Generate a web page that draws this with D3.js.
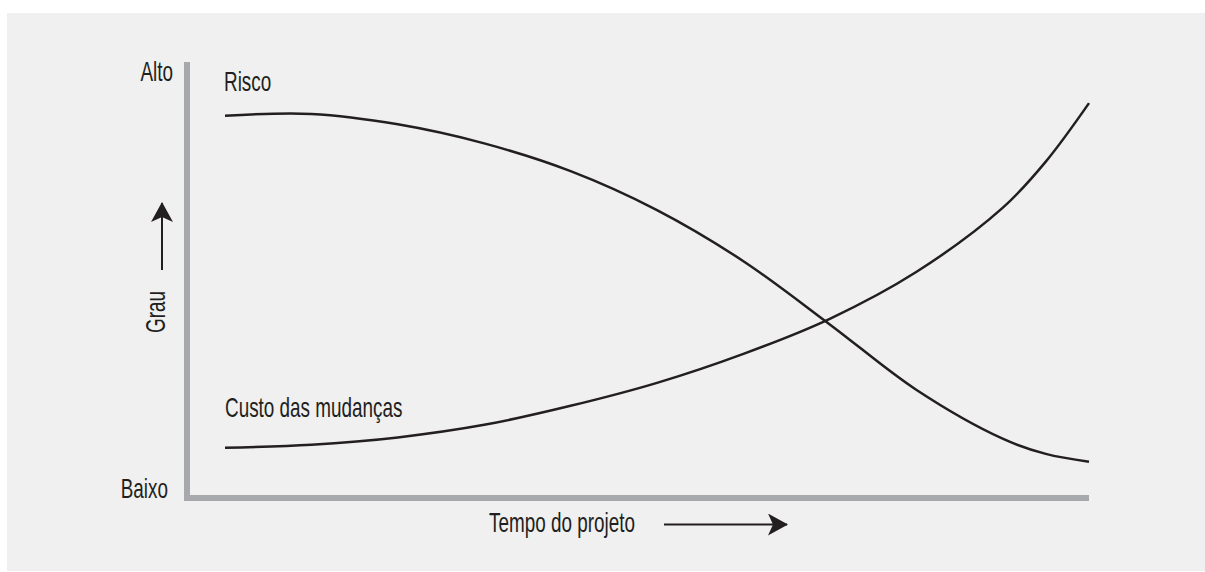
<!DOCTYPE html>
<html>
<head>
<meta charset="utf-8">
<script src="https://cdn.jsdelivr.net/npm/d3@7"></script>
<style>
  body { margin: 0; background: #fff; }
  text { font-family: 'Liberation Sans', Arial, sans-serif; fill: #231f20; }
</style>
</head>
<body>
<div id="chart"></div>
<script>
// project time (0-100) and degree (0-100)
const TIME = [0, 10, 20, 30, 40, 50, 60, 70, 80, 90, 95, 100]
const RISCO = [87.6, 88.0, 85.6, 81.2, 74.8, 65.8, 54.0, 39.4, 24.3, 13.0, 9.5, 7.7]
const CUSTO = [10.9, 11.6, 13.3, 16.2, 20.6, 25.9, 32.6, 40.7, 51.5, 66.3, 77.0, 90.5]
const Y_LABELS = ['Baixo', 'Alto']
const SERIES_LABELS = ['Risco', 'Custo das mudanças']
const X_TITLE = 'Tempo do projeto'
const Y_TITLE = 'Grau'

const WIDTH = 1205
const HEIGHT = 572
const AXIS_COLOR = '#a7a9ac'
const INK = '#231f20'
const FONT_SIZE = 27
const SQUEEZE = 0.7   // condensed look, no narrow font installed

let svg = d3.select('#chart')
  .append('svg')
    .attr('width', WIDTH)
    .attr('height', HEIGHT)

svg.append('rect')
  .attr('x', 7)
  .attr('y', 13)
  .attr('width', WIDTH - 7)
  .attr('height', 558)
  .attr('fill', '#f0f0f0')

let x = d3.scaleLinear().domain([0, 100]).range([225, 1089])
let y = d3.scaleLinear().domain([0, 100]).range([495, 62])

// axes are plain grey bars
svg.append('rect')
  .attr('x', 184).attr('y', y(100))
  .attr('width', 6).attr('height', y(0) + 6 - y(100))
  .attr('fill', AXIS_COLOR)

svg.append('rect')
  .attr('x', 184).attr('y', y(0))
  .attr('width', x(100) - 184).attr('height', 6)
  .attr('fill', AXIS_COLOR)

let line = d3.line()
  .x((d) => x(d[0]))
  .y((d) => y(d[1]))
  .curve(d3.curveCatmullRom.alpha(0.5))

;[RISCO, CUSTO].forEach((s) => {
  svg.append('path')
    .datum(TIME.map((t, i) => [t, s[i]]))
    .attr('d', line)
    .attr('fill', 'none')
    .attr('stroke', INK)
    .attr('stroke-width', 2.5)
})

let label = (txt, px, py, anchor, rot) => svg.append('text')
  .attr('transform', 'translate(' + px + ',' + py + ')' + (rot ? ' rotate(' + rot + ')' : '') + ' scale(' + SQUEEZE + ',1)')
  .attr('text-anchor', anchor || 'start')
  .attr('font-size', FONT_SIZE)
  .text(txt)

label(Y_LABELS[1], 173, 81, 'end')
label(Y_LABELS[0], 168, 498, 'end')
label(SERIES_LABELS[0], 224, 91)
label(SERIES_LABELS[1], 225, 417)
label(X_TITLE, 489, 532)
label(Y_TITLE, 165, 312, 'middle', -90)

// arrows
let arrow = svg.append('defs').append('marker')
  .attr('id', 'head')
  .attr('viewBox', '0 0 20 22')
  .attr('refX', 19).attr('refY', 11)
  .attr('markerWidth', 20).attr('markerHeight', 22)
  .attr('markerUnits', 'userSpaceOnUse')
  .attr('orient', 'auto')
arrow.append('path')
  .attr('d', 'M0,0L20,11L0,22L5,11Z')
  .attr('fill', INK)

svg.append('line')
  .attr('x1', 664).attr('y1', 524.5)
  .attr('x2', 787).attr('y2', 524.5)
  .attr('stroke', INK).attr('stroke-width', 2)
  .attr('marker-end', 'url(#head)')

svg.append('line')
  .attr('x1', 162).attr('y1', 270)
  .attr('x2', 162).attr('y2', 203)
  .attr('stroke', INK).attr('stroke-width', 2)
  .attr('marker-end', 'url(#head)')
</script>
</body>
</html>
